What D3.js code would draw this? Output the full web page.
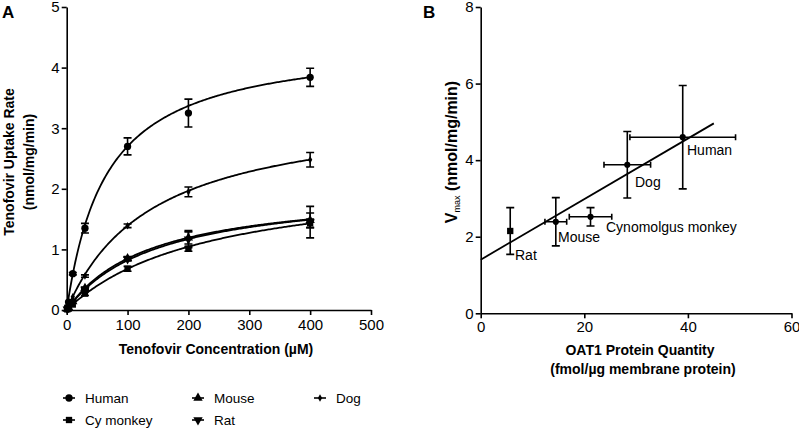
<!DOCTYPE html>
<html>
<head>
<meta charset="utf-8">
<script src="https://cdn.jsdelivr.net/npm/d3@7.9.0/dist/d3.min.js"></script>
<style>
  body { margin: 0; background: #fff; }
  svg { display: block; font-family: "Liberation Sans", Arial, sans-serif; }
  .axis path, .axis line { stroke: #000; stroke-width: 1.6; }
  .axis text { font-size: 15px; fill: #000; }
</style>
</head>
<body>
<svg id="chart" width="799" height="428"></svg>
<script>
// panel A: uptake vs concentration
const conc = [1, 3, 10, 30, 100, 200, 400];
const species = ['Human', 'Mouse', 'Dog', 'Cy monkey', 'Rat'];
const uptake = {
  'Human':     [0.04, 0.13, 0.60, 1.35, 2.70, 3.25, 3.84],
  'Dog':       [0.02, 0.07, 0.22, 0.56, 1.39, 1.95, 2.48],
  'Mouse':     [0.015, 0.045, 0.14, 0.36, 0.85, 1.19, 1.48],
  'Rat':       [0.015, 0.04, 0.13, 0.34, 0.84, 1.17, 1.45],
  'Cy monkey': [0.01, 0.03, 0.09, 0.27, 0.68, 1.01, 1.43]
};
const uptakeErr = {
  'Human':     [0, 0, 0.02, 0.08, 0.14, 0.23, 0.15],
  'Dog':       [0, 0, 0, 0.02, 0.03, 0.08, 0.12],
  'Mouse':     [0, 0, 0, 0.02, 0.03, 0.10, 0.12],
  'Rat':       [0, 0, 0, 0.02, 0.03, 0.14, 0.26],
  'Cy monkey': [0, 0, 0, 0.03, 0.04, 0.04, 0.07]
};
// Michaelis-Menten fit parameters
const fitVmax = { 'Human': 4.47, 'Dog': 3.36, 'Mouse': 2.01, 'Rat': 2.05, 'Cy monkey': 2.26 };
const fitKm   = { 'Human': 65.5, 'Dog': 141.6, 'Mouse': 136.9, 'Rat': 150, 'Cy monkey': 232.6 };

// panel B: Vmax vs OAT1 quantity
const bNames = ['Rat', 'Mouse', 'Cynomolgus monkey', 'Dog', 'Human'];
const oat1 = [5.7, 14.5, 21.2, 28.3, 39.0];
const oat1Err = [0, 2.1, 4.1, 4.5, 10.2];
const vmax = [2.15, 2.39, 2.52, 3.88, 4.60];
const vmaxErr = [0.61, 0.63, 0.24, 0.87, 1.35];
const regLine = [[0, 1.40], [45, 4.96]];

const svg = d3.select('#chart');

const symbols = {
  'Human': { type: d3.symbolCircle, size: 42, rot: 0 },
  'Mouse': { type: d3.symbolTriangle, size: 38, rot: 0 },
  'Dog': { type: d3.symbolDiamond, size: 16, rot: 0 },
  'Cy monkey': { type: d3.symbolSquare, size: 40, rot: 0 },
  'Rat': { type: d3.symbolTriangle, size: 38, rot: 180 }
};

// ---------- Panel A ----------
const xA = d3.scaleLinear().domain([0, 500]).range([66.7, 371]);
const yA = d3.scaleLinear().domain([0, 5]).range([310, 7]);

svg.append('g').attr('class', 'axis')
  .attr('transform', `translate(0,${yA(0)})`)
  .call(d3.axisBottom(xA).ticks(5).tickSize(5).tickSizeOuter(0).tickPadding(4));
svg.append('g').attr('class', 'axis')
  .attr('transform', `translate(${xA(0)},0)`)
  .call(d3.axisLeft(yA).ticks(5).tickSize(5).tickSizeOuter(0).tickPadding(2));

const line = d3.line().x(d => xA(d[0])).y(d => yA(d[1]));

species.forEach(sp => {
  const pts = d3.range(0, 401, 2).map(s => [s, fitVmax[sp] * s / (fitKm[sp] + s)]);
  svg.append('path')
    .attr('d', line(pts))
    .attr('fill', 'none')
    .attr('stroke', '#000')
    .attr('stroke-width', 1.8);

  const g = svg.append('g');
  conc.forEach((c, i) => {
    const v = uptake[sp][i];
    const e = uptakeErr[sp][i];
    if (e > 0.015) {
      const x = xA(c);
      g.append('path')
        .attr('d', `M${x},${yA(v - e)}V${yA(v + e)}M${x - 4},${yA(v - e)}H${x + 4}M${x - 4},${yA(v + e)}H${x + 4}`)
        .attr('stroke', '#000').attr('stroke-width', 1.6).attr('fill', 'none');
    }
    g.append('path')
      .attr('d', d3.symbol().type(symbols[sp].type).size(symbols[sp].size)())
      .attr('transform', `translate(${xA(c)},${yA(v)}) rotate(${symbols[sp].rot})`)
      .attr('fill', '#000');
  });
});

svg.append('text').attr('x', 2).attr('y', 18)
  .attr('font-size', 17).attr('font-weight', 'bold').text('A');

svg.append('text')
  .attr('transform', `translate(14,162) rotate(-90)`)
  .attr('text-anchor', 'middle').attr('font-size', 14).attr('font-weight', 'bold')
  .text('Tenofovir Uptake Rate');
svg.append('text')
  .attr('transform', `translate(34,162) rotate(-90)`)
  .attr('text-anchor', 'middle').attr('font-size', 14).attr('font-weight', 'bold')
  .text('(nmol/mg/min)');

svg.append('text').attr('x', 216).attr('y', 354)
  .attr('text-anchor', 'middle').attr('font-size', 14).attr('font-weight', 'bold')
  .text('Tenofovir Concentration (µM)');

// legend
const legendPos = [[69, 398], [198, 398], [320, 398], [69, 420], [198, 420]];
species.forEach((sp, i) => {
  const [lx, ly] = legendPos[i];
  svg.append('line')
    .attr('x1', lx - 6).attr('x2', lx + 6).attr('y1', ly).attr('y2', ly)
    .attr('stroke', '#000').attr('stroke-width', 1.6);
  svg.append('path')
    .attr('d', d3.symbol().type(symbols[sp].type).size(symbols[sp].size)())
    .attr('transform', `translate(${lx},${ly}) rotate(${symbols[sp].rot})`)
    .attr('fill', '#000');
  svg.append('text').attr('x', lx + 16).attr('y', ly + 5)
    .attr('font-size', 13.5).text(sp);
});

// ---------- Panel B ----------
const xB = d3.scaleLinear().domain([0, 60]).range([480.7, 791.5]);
const yB = d3.scaleLinear().domain([0, 8]).range([313.3, 7]);

svg.append('g').attr('class', 'axis')
  .attr('transform', `translate(0,${yB(0)})`)
  .call(d3.axisBottom(xB).ticks(3).tickSize(5).tickSizeOuter(0).tickPadding(3));
svg.append('g').attr('class', 'axis')
  .attr('transform', `translate(${xB(0)},0)`)
  .call(d3.axisLeft(yB).ticks(4).tickSize(5).tickSizeOuter(0).tickPadding(2));

svg.append('path')
  .attr('d', d3.line().x(d => xB(d[0])).y(d => yB(d[1]))(regLine))
  .attr('stroke', '#000').attr('stroke-width', 1.8).attr('fill', 'none');

bNames.forEach((name, i) => {
  const x = xB(oat1[i]), y = yB(vmax[i]);
  const ve = vmaxErr[i], he = oat1Err[i];
  let d = `M${x},${yB(vmax[i] - ve)}V${yB(vmax[i] + ve)}` +
    `M${x - 4},${yB(vmax[i] - ve)}H${x + 4}M${x - 4},${yB(vmax[i] + ve)}H${x + 4}`;
  if (he > 0) {
    const x0 = xB(oat1[i] - he), x1 = xB(oat1[i] + he);
    d += `M${x0},${y}H${x1}M${x0},${y - 3}V${y + 3}M${x1},${y - 3}V${y + 3}`;
  }
  svg.append('path').attr('d', d)
    .attr('stroke', '#000').attr('stroke-width', 1.6).attr('fill', 'none');
  svg.append('path')
    .attr('d', d3.symbol().type(name === 'Rat' ? d3.symbolSquare : d3.symbolCircle)
      .size(name === 'Rat' ? 40 : 30)())
    .attr('transform', `translate(${x},${y})`)
    .attr('fill', '#000');
});

const bLabelPos = [[515, 260], [558, 242], [606, 232], [635, 187], [687, 155]];
bNames.forEach((name, i) => {
  svg.append('text').attr('x', bLabelPos[i][0]).attr('y', bLabelPos[i][1])
    .attr('font-size', 14).text(name);
});

svg.append('text').attr('x', 423).attr('y', 18)
  .attr('font-size', 17).attr('font-weight', 'bold').text('B');

const yt = svg.append('text')
  .attr('transform', `translate(457,152) rotate(-90)`)
  .attr('text-anchor', 'middle').attr('font-size', 16).attr('font-weight', 'bold');
yt.append('tspan').text('V');
yt.append('tspan').attr('font-size', 9).attr('font-weight', 'normal').attr('dy', 3).text('max');
yt.append('tspan').attr('dy', -3).text(' (nmol/mg/min)');

svg.append('text').attr('x', 640).attr('y', 355)
  .attr('text-anchor', 'middle').attr('font-size', 14).attr('font-weight', 'bold')
  .text('OAT1 Protein Quantity');
svg.append('text').attr('x', 643).attr('y', 374)
  .attr('text-anchor', 'middle').attr('font-size', 14).attr('font-weight', 'bold')
  .text('(fmol/µg membrane protein)');
</script>
</body>
</html>
